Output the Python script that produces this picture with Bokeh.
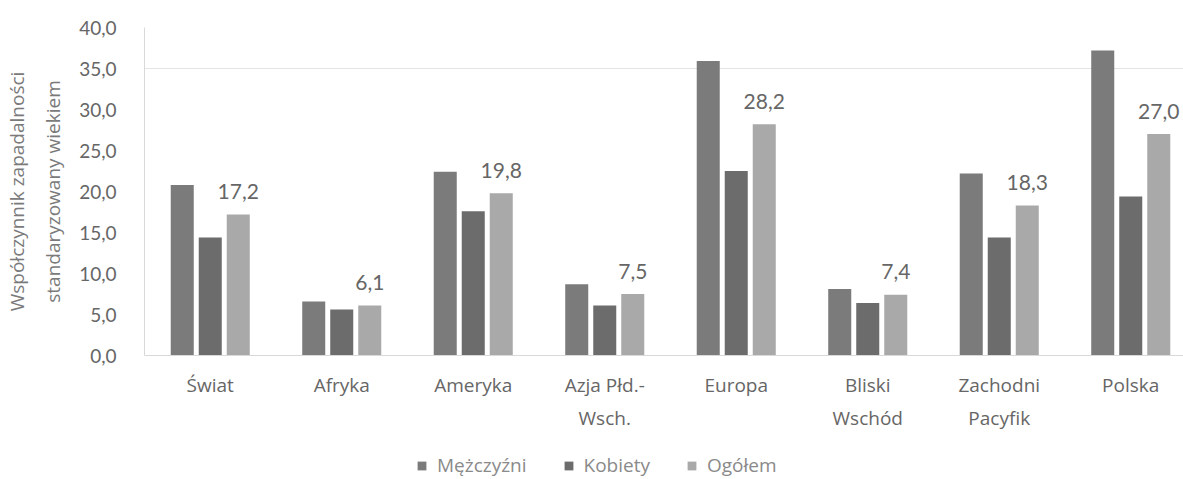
from bokeh.plotting import figure
from bokeh.layouts import column
from bokeh.models import (ColumnDataSource, Range1d, FixedTicker,
                          CustomJSTickFormatter, Legend, LegendItem)
from bokeh.transform import dodge
from bokeh.core.properties import value
from bokeh.embed import file_html
from bokeh.resources import INLINE

categories = ["Świat", "Afryka", "Ameryka", "Azja Płd.-\nWsch.", "Europa",
              "Bliski\nWschód", "Zachodni\nPacyfik", "Polska"]
men = [20.8, 6.6, 22.4, 8.7, 35.9, 8.1, 22.2, 37.2]
women = [14.4, 5.6, 17.6, 6.1, 22.5, 6.4, 14.4, 19.4]
total = [17.2, 6.1, 19.8, 7.5, 28.2, 7.4, 18.3, 27.0]
series_names = ["Mężczyźni", "Kobiety", "Ogółem"]
series_colors = ["#7b7b7b", "#6c6c6c", "#a9a9a9"]
y_ticks = [0, 5, 10, 15, 20, 25, 30, 35, 40]

FONT = "Lato"
FONT2 = "Open Sans"
TXT = "#666666"

xpos = [i + 0.5 for i in range(len(categories))]
src = ColumnDataSource(dict(
    x=xpos, men=men, women=women, total=total,
    lab=[f"{v:.1f}".replace(".", ",") for v in total],
))

# the original chart's plot area runs slightly past the right edge of the image
p = figure(x_range=Range1d(0, 1043 / 131.5), y_range=Range1d(0, 40),
           frame_width=1043, frame_height=328, output_backend="svg",
           toolbar_location=None,
           min_border_left=140, min_border_right=0, min_border_top=27,
           min_border_bottom=92)
p.outline_line_color = None
p.background_fill_color = "white"

w = 0.175
for col, off, color in zip(["men", "women", "total"], [-0.213, 0.0, 0.213], series_colors):
    p.vbar(x=dodge("x", off), top=col, width=w,
           source=src, fill_color=color, line_color=None)

p.text(x=dodge("x", 0.213), y="total", text="lab", source=src,
       text_font=value(FONT), text_font_size="21px", text_color=TXT,
       text_align="center", text_baseline="alphabetic", y_offset=-23)

# grid
p.xgrid.grid_line_color = None
p.ygrid.ticker = FixedTicker(ticks=[35])
p.ygrid.grid_line_color = "#e4e4e4"

# y axis
ya = p.yaxis[0]
ya.ticker = FixedTicker(ticks=y_ticks)
ya.formatter = CustomJSTickFormatter(code="return tick.toFixed(1).replace('.', ',');")
ya.axis_line_color = "#d9d9d9"
ya.major_tick_line_color = None
ya.minor_tick_line_color = None
ya.major_label_text_font = FONT
ya.major_label_text_font_size = "19px"
ya.major_label_text_color = TXT
ya.major_label_standoff = 22
ya.axis_label = "Współczynnik zapadalności\nstandaryzowany wiekiem"
ya.axis_label_text_font = FONT2
ya.axis_label_text_font_size = "19px"
ya.axis_label_text_font_style = "normal"
ya.axis_label_text_color = "#7a7a7a"
ya.axis_label_text_line_height = 1.4
ya.axis_label_standoff = 10

# x axis
xa = p.xaxis[0]
xa.ticker = FixedTicker(ticks=xpos)
xa.formatter = CustomJSTickFormatter(args=dict(names=categories),
                                     code="return names[Math.round(tick - 0.5)];")
xa.axis_line_color = "#d9d9d9"
xa.major_tick_line_color = None
xa.minor_tick_line_color = None
xa.major_label_text_font = FONT2
xa.major_label_text_font_size = "19px"
xa.major_label_text_color = TXT
xa.major_label_text_line_height = 1.3
xa.major_label_standoff = 10

# legend strip below the chart (swatch glyphs sit outside the visible range)
p2 = figure(width=1183, height=32, x_range=Range1d(0, 1), y_range=Range1d(0, 1),
            output_backend="svg", toolbar_location=None, min_border=0)
p2.axis.visible = False
p2.grid.grid_line_color = None
p2.outline_line_color = None
items = []
for name, color in zip(series_names, series_colors):
    r = p2.vbar(x=[5], top=[1], width=0.1, fill_color=color, line_color=None)
    items.append(LegendItem(label=name, renderers=[r]))

legend = Legend(items=items, orientation="horizontal", location=(271, 0))
legend.label_text_font = FONT2
legend.label_text_font_size = "19px"
legend.label_text_color = "#8a8a8a"
legend.glyph_width = 11
legend.glyph_height = 11
legend.label_standoff = 10
legend.spacing = 36
legend.border_line_alpha = 0
legend.background_fill_alpha = 0
legend.padding = 1
legend.margin = 0
p2.add_layout(legend, "center")

layout = column(p, p2, spacing=0)
open("out.html", "w").write(file_html(layout, INLINE))
